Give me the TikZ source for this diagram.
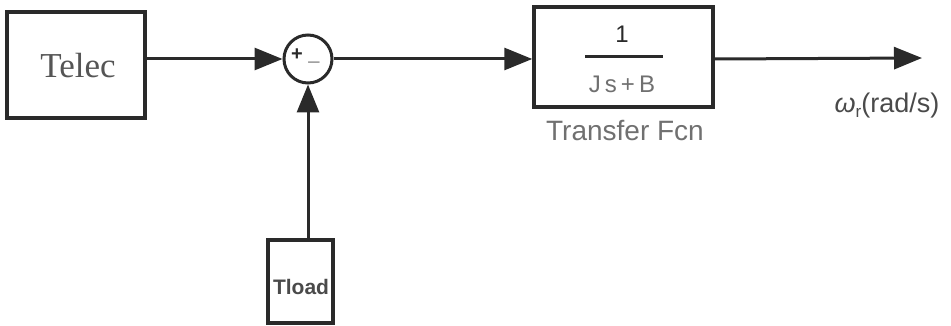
\documentclass[tikz,border=0pt]{standalone}
\usepackage{fontspec}
\setmainfont{Liberation Serif}
\newfontfamily\arialf{Liberation Sans}
\usetikzlibrary{arrows.meta}
\definecolor{ink}{HTML}{2A2A2A}
\definecolor{faded}{HTML}{707070}
\begin{document}
\begin{tikzpicture}[x=1pt,y=-1pt,
  blk/.style={draw=ink, line width=3.5pt, inner sep=0pt},
  wire/.style={draw=ink, line width=3pt, -{Triangle[length=28pt,width=22pt]}},
  lbl/.style={inner sep=0pt}]
\useasboundingbox (0,0) rectangle (951,326);
% blocks
\node[blk, minimum width=138pt, minimum height=106pt] (telec) at (76,65) {};
\node[lbl, text=ink!80, font=\fontsize{35}{35}\selectfont] (telect) at (78,66) {Telec};
\node[draw=ink, line width=3pt, circle, minimum size=48pt, inner sep=0pt] (sum) at (308,59) {};
\node[lbl, text=ink, font=\arialf\bfseries\fontsize{20}{20}\selectfont] (plus) at (297,55) {+};
\node[lbl, text=ink, font=\arialf\bfseries\fontsize{20}{20}\selectfont] (minus) at (314,62) {\_};
\node[blk, minimum width=179pt, minimum height=100pt] (tf) at (623.5,57) {};
\node[lbl, text=ink, font=\arialf\fontsize{24}{24}\selectfont] (num) at (622,34) {1};
\draw[ink, line width=3pt] (585,57) coordinate (fb1) -- (663,57) coordinate (fb2);
\node[lbl, text=faded, font=\arialf\fontsize{24}{24}\selectfont] (den) at (622,84) {J\,s\,+\,B};
\node[lbl, text=faded, font=\arialf\fontsize{28}{28}\selectfont] (tfl) at (625,131) {Transfer Fcn};
\node[blk, minimum width=65pt, minimum height=83pt] (tload) at (300.5,281.5) {};
\node[lbl, text=ink!85, font=\arialf\bfseries\fontsize{21}{21}\selectfont] (tloadt) at (301,287) {Tload};
\coordinate (out) at (922,58);
\node[lbl, text=ink!85, font=\arialf\fontsize{27}{27}\selectfont] (outl) at (887,106) {{\itshape ω}\raisebox{-5pt}{\fontsize{17}{17}\selectfont r}(rad/s)};
% connectors
\draw[wire] (sum.west -| telec.east) -- (sum.west);
\draw[wire] (tload.north -| sum.south) -- (sum.south);
\draw[wire] (sum.east) -- (tf.west |- sum.east);
\draw[wire] (tf.east |- sum.east) -- (out);
\end{tikzpicture}
\end{document}
